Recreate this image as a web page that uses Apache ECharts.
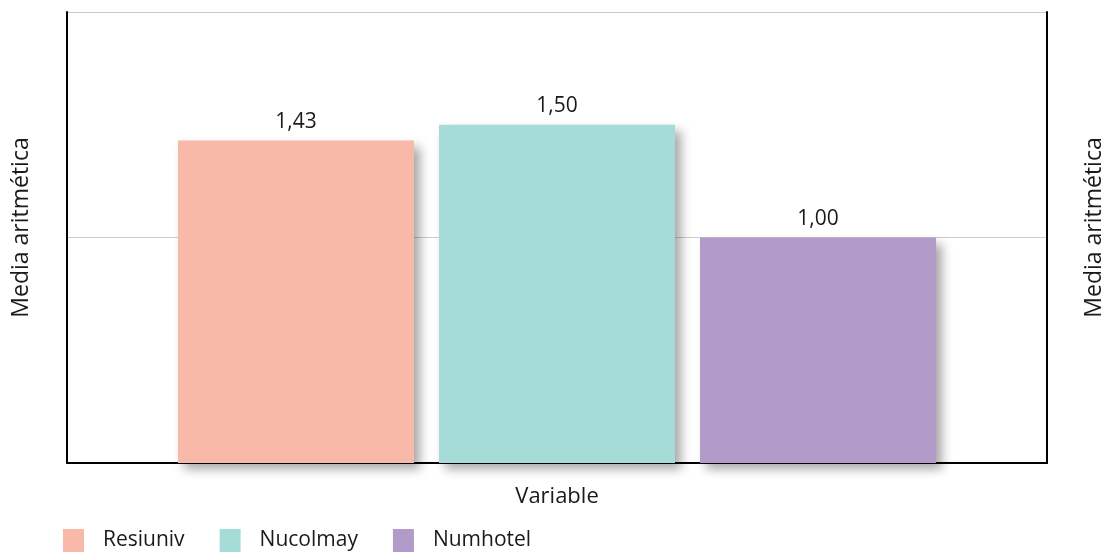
<!DOCTYPE html>
<html>
<head>
<meta charset="utf-8">
<script src="https://cdn.jsdelivr.net/npm/echarts@6/dist/echarts.min.js"></script>
<style>
  html, body { margin: 0; padding: 0; background: #fff; }
  #chart { width: 1108px; height: 555px; }
</style>
</head>
<body>
<div id="chart"></div>
<script>
// Mean value of each variable
const categories = [''];
const seriesNames = ['Resiuniv', 'Nucolmay', 'Numhotel'];
const resiuniv = [1.43];
const nucolmay = [1.50];
const numhotel = [1.00];
const colors = ['#F8B9A9', '#A6DCD8', '#B39BC9'];

const FONT = '"Open Sans", "Noto Sans", sans-serif';

const values = [resiuniv, nucolmay, numhotel];

const series = seriesNames.map((name, i) => ({
  name: name,
  type: 'bar',
  data: values[i],
  barWidth: 236,
  barGap: '10.6%',
  itemStyle: {
    color: colors[i],
    shadowColor: 'rgba(0,0,0,0.35)',
    shadowBlur: 10,
    shadowOffsetX: 6,
    shadowOffsetY: 6
  },
  label: {
    show: true,
    position: 'top',
    distance: 8,
    color: '#1a1a1a',
    fontFamily: FONT,
    fontSize: 21,
    formatter: p => p.value.toFixed(2).replace('.', ',')
  }
}));

const axisName = {
  fontFamily: FONT,
  fontSize: 23,
  color: '#1a1a1a',
  padding: [0, 0, 0, 20]
};

const chart = echarts.init(document.getElementById('chart'));
chart.setOption({
  animation: false,
  backgroundColor: '#ffffff',
  textStyle: { fontFamily: FONT },
  grid: { left: 67, right: 61, top: 12, bottom: 92, containLabel: false, outerBoundsMode: 'none' },
  legend: {
    left: 58,
    top: 524,
    icon: 'rect',
    itemWidth: 21,
    itemHeight: 23,
    itemGap: 35,
    textStyle: { fontFamily: FONT, fontSize: 21, color: '#1a1a1a', padding: [0, 0, 0, 14] },
    data: seriesNames
  },
  xAxis: {
    type: 'category',
    data: categories,
    name: 'Variable',
    nameLocation: 'middle',
    nameGap: 23,
    nameTextStyle: { fontFamily: FONT, fontSize: 22, color: '#1a1a1a' },
    axisLine: { lineStyle: { color: '#000', width: 2 } },
    axisTick: { show: false },
    axisLabel: { show: false }
  },
  yAxis: [
    {
      type: 'value',
      min: 0,
      max: 2,
      interval: 1,
      position: 'left',
      name: 'Media aritmética',
      nameLocation: 'middle',
      nameGap: 34,
      nameTextStyle: axisName,
      axisLine: { show: true, lineStyle: { color: '#000', width: 2 } },
      axisTick: { show: false },
      axisLabel: { show: false },
      splitLine: { show: true, lineStyle: { color: '#cccccc', width: 1 } }
    },
    {
      type: 'value',
      min: 0,
      max: 2,
      interval: 1,
      position: 'right',
      name: 'Media aritmética',
      nameLocation: 'middle',
      nameGap: 36,
      nameTextStyle: axisName,
      axisLine: { show: true, lineStyle: { color: '#000', width: 2 } },
      axisTick: { show: false },
      axisLabel: { show: false },
      splitLine: { show: false }
    }
  ],
  series: series
});
</script>
</body>
</html>
